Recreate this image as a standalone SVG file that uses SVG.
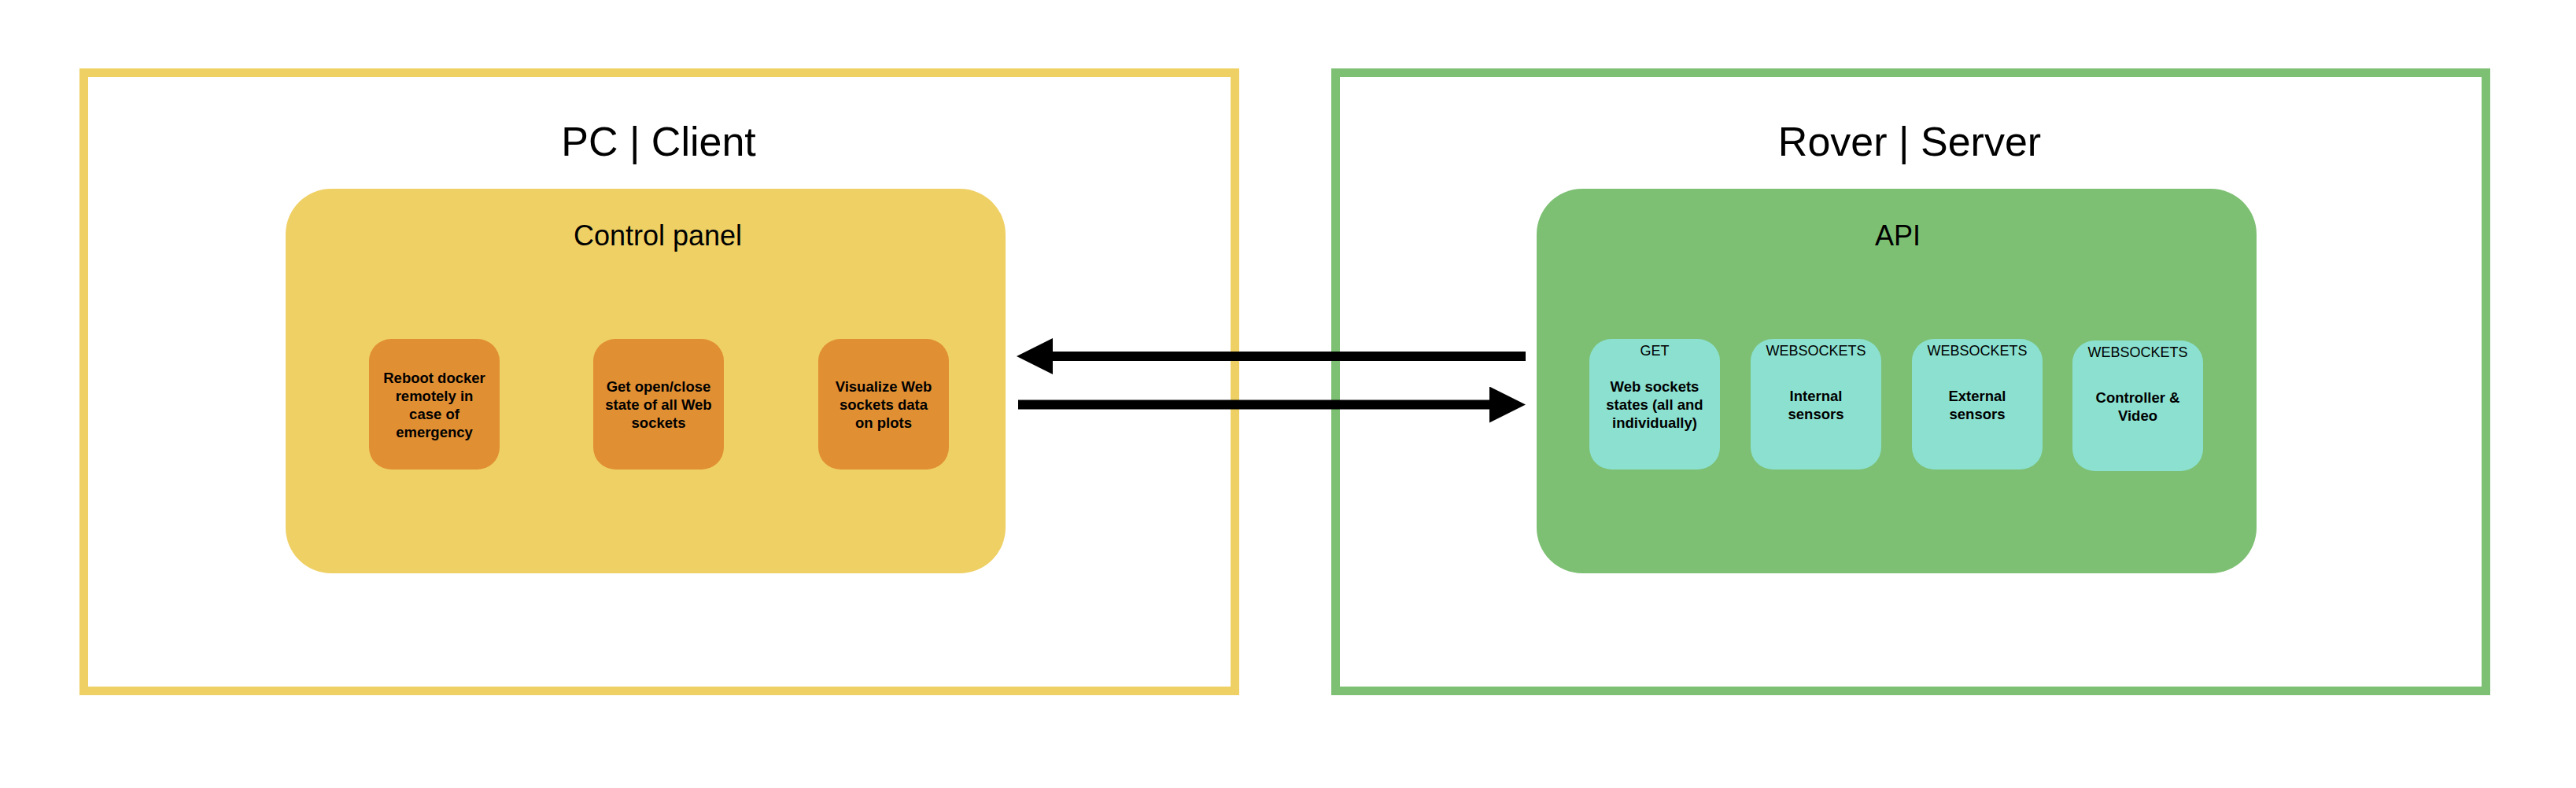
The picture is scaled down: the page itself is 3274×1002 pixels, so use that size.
<svg xmlns="http://www.w3.org/2000/svg" width="3274" height="1002" viewBox="0 0 3274 1002">
<defs>
<style>
.t{font-family:"Liberation Sans",Arial,sans-serif;fill:#000;text-anchor:middle}
.title{font-size:52px}
.sub{font-size:36px}
.box{font-size:18.5px;font-weight:bold}
.tag{font-size:18px}
.cp{fill:#EFD064}
.api{fill:#7DC073}
.ob{fill:#E18F33}
.tb{fill:#8BE0D0}
.conn{stroke:#000;stroke-width:12;fill:none}
</style>
<marker id="ah" markerUnits="userSpaceOnUse" markerWidth="46" markerHeight="46" viewBox="0 0 46 46" refX="0" refY="23" orient="auto">
<path d="M0,0 L46,23 L0,46 Z" fill="#000"/>
</marker>
</defs>
<rect width="3274" height="1002" fill="#fff"/>

<g id="pc-client">
<rect x="106.5" y="92.5" width="1463" height="786" fill="none" stroke="#EFD064" stroke-width="11"/>
<text class="t title" x="837" y="198">PC | Client</text>
</g>
<g id="control-panel">
<rect class="cp" x="363" y="240" width="915" height="489" rx="58"/>
<text class="t sub" x="836" y="312">Control panel</text>
</g>
<g id="reboot-docker">
<rect class="ob" x="469" y="431" width="166" height="166" rx="28"/>
<text class="t box" x="552" y="487">Reboot docker</text>
<text class="t box" x="552" y="510">remotely in</text>
<text class="t box" x="552" y="533">case of</text>
<text class="t box" x="552" y="556">emergency</text>
</g>
<g id="get-state">
<rect class="ob" x="754" y="431" width="166" height="166" rx="28"/>
<text class="t box" x="837" y="498">Get open/close</text>
<text class="t box" x="837" y="521">state of all Web</text>
<text class="t box" x="837" y="544">sockets</text>
</g>
<g id="visualize">
<rect class="ob" x="1040" y="431" width="166" height="166" rx="28"/>
<text class="t box" x="1123" y="498">Visualize Web</text>
<text class="t box" x="1123" y="521">sockets data</text>
<text class="t box" x="1123" y="544">on plots</text>
</g>

<g id="rover-server">
<rect x="1697.5" y="92.5" width="1462" height="786" fill="none" stroke="#7DC073" stroke-width="11"/>
<text class="t title" x="2427" y="198">Rover | Server</text>
</g>
<g id="api">
<rect class="api" x="1953" y="240" width="915" height="489" rx="58"/>
<text class="t sub" x="2412" y="312">API</text>
</g>
<g id="get-states">
<rect class="tb" x="2020" y="431" width="166" height="166" rx="28"/>
<text class="t tag" x="2103" y="452">GET</text>
<text class="t box" x="2103" y="498">Web sockets</text>
<text class="t box" x="2103" y="521">states (all and</text>
<text class="t box" x="2103" y="544">individually)</text>
</g>
<g id="internal-sensors">
<rect class="tb" x="2225" y="431" width="166" height="166" rx="28"/>
<text class="t tag" x="2308" y="452">WEBSOCKETS</text>
<text class="t box" x="2308" y="510">Internal</text>
<text class="t box" x="2308" y="533">sensors</text>
</g>
<g id="external-sensors">
<rect class="tb" x="2430" y="431" width="166" height="166" rx="28"/>
<text class="t tag" x="2513" y="452">WEBSOCKETS</text>
<text class="t box" x="2513" y="510">External</text>
<text class="t box" x="2513" y="533">sensors</text>
</g>
<g id="controller-video">
<rect class="tb" x="2634" y="433" width="166" height="166" rx="28"/>
<text class="t tag" x="2717" y="454">WEBSOCKETS</text>
<text class="t box" x="2717" y="512">Controller &amp;</text>
<text class="t box" x="2717" y="535">Video</text>
</g>

<g id="connectors">
<path class="conn" d="M1939,453 L1338,453" marker-end="url(#ah)"/>
<path class="conn" d="M1294,514.5 L1893,514.5" marker-end="url(#ah)"/>
</g>
</svg>
